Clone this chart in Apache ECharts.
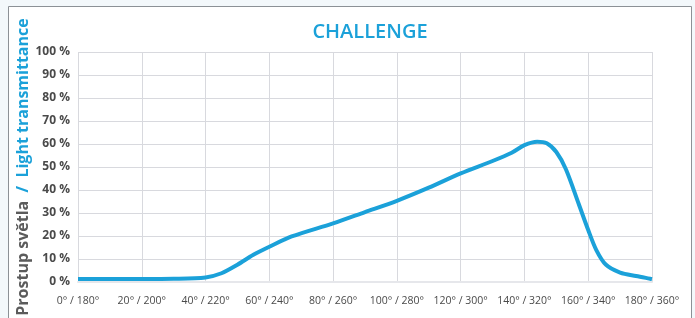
<!DOCTYPE html>
<html>
<head>
<meta charset="utf-8">
<script src="https://cdn.jsdelivr.net/npm/echarts@6/dist/echarts.min.js"></script>
<style>
  html, body { margin: 0; padding: 0; background: #f3f8fb; }
  #chart { width: 695px; height: 318px; }
</style>
</head>
<body>
<div id="chart"></div>
<script>
// angle (deg) vs light transmittance (%)
const angles = [0, 10, 20, 30, 40, 45, 50, 55, 60, 67, 80, 90, 100, 110, 120, 130, 136, 140, 144, 147, 150, 153, 157, 160, 162.5, 165.5, 170, 175, 180];
const transmittance = [1.3, 1.3, 1.3, 1.4, 2.0, 3.8, 7.5, 11.8, 15.3, 19.8, 25.5, 30.4, 35.3, 41, 47.2, 52.6, 56.2, 59.5, 61, 60.3, 56.5, 49, 34, 22.6, 14, 7.6, 4.1, 2.6, 1.3];
const xTickLabels = ["0° / 180°", "20° / 200°", "40° / 220°", "60° / 240°", "80° / 260°", "100° / 280°", "120° / 300°", "140° / 320°", "160° / 340°", "180° / 360°"];

const chart = echarts.init(document.getElementById("chart"));
const blue = "#1ba1d9";
const font = "Open Sans";

chart.setOption({
  backgroundColor: "#f3f8fb",
  animation: false,
  graphic: [
    {
      type: "rect",
      z: -10,
      shape: { x: 8.5, y: 6.5, width: 683, height: 330 },
      style: { fill: "#ffffff", stroke: "#8c9196", lineWidth: 1 },
    },
  ],
  title: {
    text: "CHALLENGE",
    left: 365,
    textAlign: "center",
    top: 17,
    textStyle: { color: blue, fontSize: 20, fontWeight: 600, fontFamily: font },
  },
  grid: { left: 78, right: 43, top: 52, bottom: 36, outerBoundsMode: "none" },
  xAxis: {
    type: "value",
    min: 0,
    max: 180,
    interval: 20,
    axisLine: { show: true, lineStyle: { color: "#e6e7eb", width: 2 } },
    axisTick: { show: false },
    splitLine: { show: true, lineStyle: { color: "#d8d9de", width: 1 } },
    axisLabel: {
      margin: 14,
      color: "#4a4a4a",
      fontSize: 10.5,
      fontFamily: font,
      formatter: (v) => xTickLabels[Math.round(v / 20)],
    },
  },
  yAxis: {
    type: "value",
    min: 0,
    max: 100,
    interval: 10,
    axisLine: { show: false },
    axisTick: { show: false },
    splitLine: { lineStyle: { color: "#d8d9de", width: 1 } },
    axisLabel: {
      margin: 8,
      color: "#4a4a4a",
      fontSize: 12,
      fontWeight: "bold",
      fontFamily: font,
      formatter: "{value} %",
    },
    name: "{g|Prostup světla}{b|  /  Light transmittance}",
    nameLocation: "middle",
    nameRotate: 90,
    nameGap: 47,
    nameMoveOverlap: false,
    nameTextStyle: {
      fontFamily: font,
      rich: {
        g: { color: "#5b5b5b", fontSize: 16, fontWeight: "bold", fontFamily: font },
        b: { color: blue, fontSize: 16, fontWeight: "bold", fontFamily: font },
      },
    },
  },
  series: [
    {
      type: "line",
      data: angles.map((a, i) => [a, transmittance[i]]),
      smooth: 0.3,
      showSymbol: false,
      lineStyle: { color: blue, width: 4 },
    },
  ],
});
</script>
</body>
</html>
